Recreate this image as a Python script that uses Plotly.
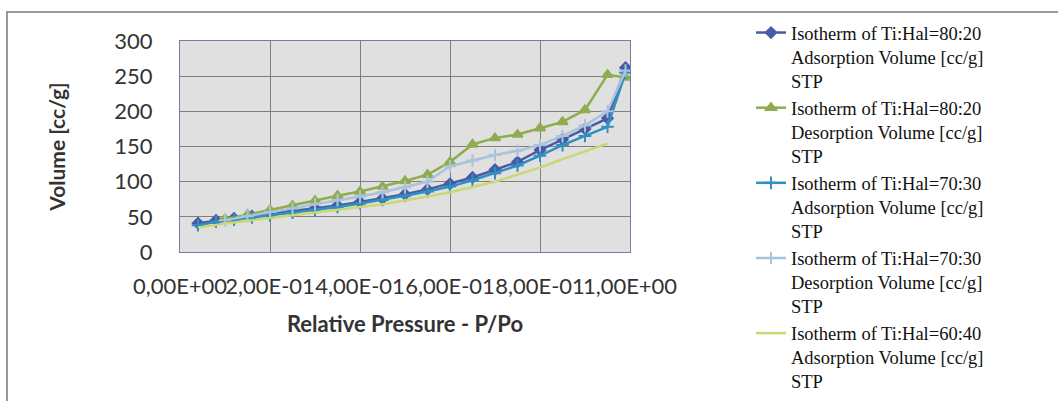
import plotly.graph_objects as go

# ---- data ----
p_ads = [0.04, 0.08, 0.12, 0.16, 0.20, 0.25, 0.30, 0.35, 0.40, 0.45, 0.50,
         0.55, 0.60, 0.65, 0.70, 0.75, 0.80, 0.85, 0.90, 0.95, 0.99]
p_des = [0.99, 0.95, 0.90, 0.85, 0.80, 0.75, 0.70, 0.65, 0.60, 0.55, 0.50,
         0.45, 0.40, 0.35, 0.30, 0.25, 0.20, 0.15, 0.10]
p_ads60 = [0.04, 0.08, 0.12, 0.16, 0.20, 0.25, 0.30, 0.35, 0.40, 0.45, 0.50,
           0.55, 0.60, 0.65, 0.70, 0.75, 0.80, 0.85, 0.90, 0.95]

ads_80_20 = [41, 45, 48, 51, 54, 58, 62, 66, 71, 76, 82, 89, 97, 106, 117,
             128, 145, 160, 175, 190, 262]
des_80_20 = [248, 252, 202, 185, 176, 167, 162, 153, 128, 110, 101, 93, 86,
             80, 73, 66, 60, 53, 47]
ads_70_30 = [38, 43, 46, 49, 52, 56, 60, 64, 69, 74, 80, 86, 93, 102, 112,
             123, 137, 152, 165, 178, 255]
des_70_30 = [258, 200, 180, 165, 152, 144, 138, 130, 122, 100, 92, 85, 79,
             74, 68, 62, 57, 51, 45]
ads_60_40 = [35, 39, 42, 45, 48, 52, 56, 60, 64, 68, 73, 79, 85, 92, 100,
             110, 120, 132, 143, 154]

names = [
    "Isotherm of Ti:Hal=80:20<br>Adsorption Volume [cc/g]<br>STP",
    "Isotherm of Ti:Hal=80:20<br>Desorption Volume [cc/g]<br>STP",
    "Isotherm of Ti:Hal=70:30<br>Adsorption Volume [cc/g]<br>STP",
    "Isotherm of Ti:Hal=70:30<br>Desorption Volume [cc/g]<br>STP",
    "Isotherm of Ti:Hal=60:40<br>Adsorption Volume [cc/g]<br>STP",
]

x_tickvals = [0, 0.2, 0.4, 0.6, 0.8, 1.0]
x_ticktext = ["0,00E+00", "2,00E-01", "4,00E-01", "6,00E-01", "8,00E-01", "1,00E+00"]
y_tickvals = [0, 50, 100, 150, 200, 250, 300]

# ---- figure ----
fig = go.Figure()

series = [
    (p_ads, ads_80_20, names[0], "#4a5aa6", "diamond", 8, "lines+markers"),
    (p_des, des_80_20, names[1], "#8fac4e", "triangle-up", 9, "lines+markers"),
    (p_ads, ads_70_30, names[2], "#2f90bf", "cross-thin", 9, "lines+markers"),
    (p_des, des_70_30, names[3], "#a9c3da", "cross-thin", 9, "lines+markers"),
    (p_ads60, ads_60_40, names[4], "#c9d873", "circle", 6, "lines"),
]

for xs, ys, nm, col, sym, sz, mode in series:
    fig.add_trace(go.Scatter(
        x=xs, y=ys, name=nm, mode=mode,
        line=dict(color=col, width=2.5),
        marker=dict(symbol=sym, size=sz, color=col,
                    line=dict(color=col, width=2)),
    ))

fig.update_layout(
    width=1058, height=401,
    margin=dict(l=180, r=428, t=41, b=149),
    paper_bgcolor="white",
    plot_bgcolor="#e0e0e0",
    showlegend=True,
    legend=dict(
        xref="container", yref="container",
        x=751 / 1058, y=1 - 14 / 401,
        xanchor="left", yanchor="top",
        font=dict(family="Liberation Serif", size=18.5, color="#111111"),
        valign="top",
        bgcolor="rgba(0,0,0,0)",
        maxheight=400,
    ),
    shapes=[dict(
        type="rect", xref="paper", yref="paper",
        x0=(7 - 180) / 450, x1=(1062 - 180) / 450,
        y0=(252 - 410) / 211, y1=(252 - 12) / 211,
        line=dict(color="#9a9a9a", width=2), fillcolor="rgba(0,0,0,0)",
        layer="below",
    )],
)

fig.update_xaxes(
    range=[0, 1.0],
    tickvals=x_tickvals, ticktext=x_ticktext, tickangle=0,
    showgrid=True, gridcolor="#7f7f7f", gridwidth=1,
    zeroline=False,
    showline=True, linecolor="#7a7aa8", linewidth=1, mirror=True,
    ticks="outside", ticklen=15, tickcolor="rgba(0,0,0,0)",
    tickfont=dict(family="Lato", size=22, color="#333333"),
    title=dict(text="<b>Relative Pressure - P/Po</b>", standoff=18,
               font=dict(family="Lato", size=22, color="#333333")),
)
fig.update_yaxes(
    range=[0, 300],
    tickvals=y_tickvals,
    showgrid=True, gridcolor="#7f7f7f", gridwidth=1,
    zeroline=False,
    showline=True, linecolor="#7a7aa8", linewidth=1, mirror=True,
    ticks="outside", ticklen=22, tickcolor="rgba(0,0,0,0)",
    tickfont=dict(family="Lato", size=22, color="#333333"),
    title=dict(text="<b>Volume [cc/g]</b>", standoff=42,
               font=dict(family="Lato", size=21, color="#333333")),
)

fig.write_html("out.html")
